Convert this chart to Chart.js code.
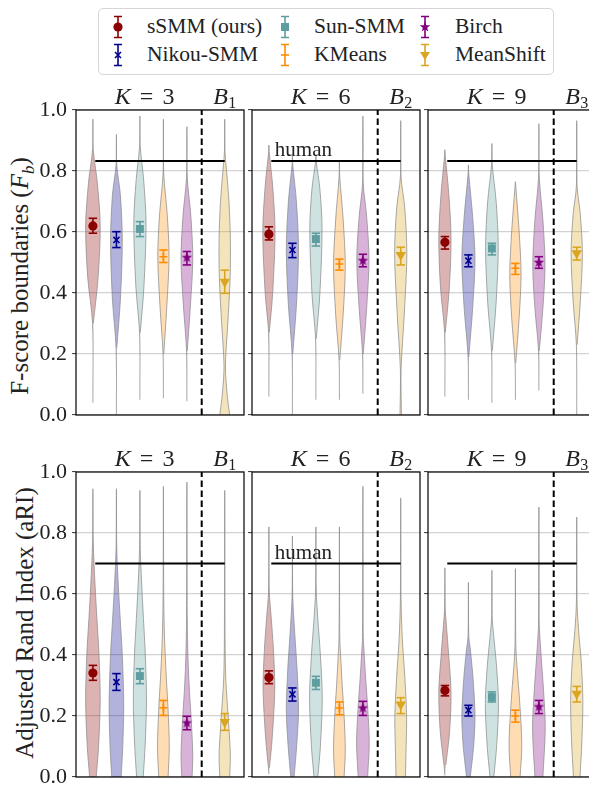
<!DOCTYPE html>
<html>
<head>
<meta charset="utf-8">
<script src="https://cdn.jsdelivr.net/npm/chart.js@4.4.0/dist/chart.umd.min.js"></script>
<style>
html, body { margin: 0; padding: 0; background: #fff; overflow: hidden; }
#fig { position: relative; width: 589px; height: 786px; overflow: hidden; font-family: 'Liberation Serif', serif; color: #222; }
.panel { position: absolute; }
.ylab { position: absolute; white-space: nowrap; font-size: 25px; line-height: 25px; transform: translate(-50%, -50%) rotate(-90deg); }
#legend { position: absolute; left: 98px; top: 8px; width: 456px; height: 67px; border: 1.3px solid #d6d6d6; border-radius: 5px; box-sizing: border-box; background: #fff; }
.item { position: absolute; font-size: 21.5px; line-height: 21.5px; white-space: nowrap; }
.mk { position: absolute; }
</style>
</head>
<body>
<div id="fig">
  <div id="legend"></div>
  <div class="ylab" style="left:24px; top:276px;">F-score boundaries (<i>F<sub style="font-size:17px">b</sub></i>)</div>
  <div class="ylab" style="left:24px; top:623px;">Adjusted Rand Index (aRI)</div>
</div>
<script>
// methods, in legend order
const methods = ['sSMM (ours)', 'Nikou-SMM', 'Sun-SMM', 'KMeans', 'Birch', 'MeanShift'];
const colors = ['#8b0000', '#00008b', '#5f9ea0', '#ff8c00', '#800080', '#daa520'];
const fills = ['rgba(139,0,0,0.3)', 'rgba(0,0,139,0.3)', 'rgba(95,158,160,0.3)',
               'rgba(255,140,0,0.3)', 'rgba(128,0,128,0.3)', 'rgba(218,165,32,0.3)'];
const markers = ['circle', 'crossRot', 'rect', 'cross', 'star', 'triangle'];

const kLabels = ['3', '6', '9'];
const bLabels = ['1', '2', '3'];
const xPositions = [0, 1, 2, 3, 4, 5.61];
const dividerX = 4.63;
const yTicks = [0, 0.2, 0.4, 0.6, 0.8, 1.0];

const humanFb = 0.833;
const humanAri = 0.70;

// mean and error bar ends, one row per K
const fbMean = [[0.620, 0.574, 0.610, 0.519, 0.516, 0.437],
                [0.593, 0.541, 0.577, 0.495, 0.506, 0.525],
                [0.566, 0.506, 0.546, 0.481, 0.500, 0.530]];
const fbLow  = [[0.596, 0.549, 0.585, 0.500, 0.492, 0.399],
                [0.574, 0.516, 0.554, 0.475, 0.486, 0.492],
                [0.544, 0.486, 0.525, 0.461, 0.481, 0.508]];
const fbHigh = [[0.645, 0.601, 0.634, 0.541, 0.536, 0.475],
                [0.617, 0.563, 0.596, 0.511, 0.527, 0.550],
                [0.585, 0.525, 0.563, 0.497, 0.519, 0.550]];

const ariMean = [[0.341, 0.311, 0.331, 0.227, 0.177, 0.180],
                 [0.326, 0.271, 0.309, 0.226, 0.226, 0.238],
                 [0.284, 0.219, 0.262, 0.200, 0.230, 0.273]];
const ariLow  = [[0.317, 0.284, 0.306, 0.202, 0.155, 0.153],
                 [0.306, 0.249, 0.287, 0.204, 0.202, 0.208],
                 [0.266, 0.200, 0.246, 0.180, 0.208, 0.246]];
const ariHigh = [[0.366, 0.339, 0.355, 0.251, 0.199, 0.208],
                 [0.348, 0.292, 0.330, 0.246, 0.248, 0.260],
                 [0.300, 0.235, 0.279, 0.219, 0.251, 0.297]];

// violin outlines: [value, half width] from bottom to top
const fbViolins = [
  [
    [[0.04,0],[0.30,0.015],[0.45,0.22],[0.62,0.31],[0.76,0.19],[0.87,0.015],[0.97,0]],
    [[0,0],[0.22,0.015],[0.38,0.17],[0.57,0.25],[0.72,0.17],[0.82,0.015],[0.92,0]],
    [[0.05,0],[0.27,0.015],[0.42,0.17],[0.63,0.26],[0.77,0.16],[0.88,0.015],[0.98,0]],
    [[0.055,0],[0.20,0.015],[0.35,0.14],[0.52,0.24],[0.66,0.16],[0.79,0.015],[0.97,0]],
    [[0.045,0],[0.21,0.015],[0.36,0.15],[0.51,0.25],[0.65,0.17],[0.78,0.015],[0.945,0]],
    [[0,0.21],[0.07,0.10],[0.16,0.03],[0.30,0.13],[0.45,0.23],[0.58,0.24],[0.70,0.18],[0.78,0.10],[0.86,0.015],[0.97,0]]
  ],
  [
    [[0.06,0],[0.27,0.015],[0.40,0.16],[0.60,0.26],[0.75,0.16],[0.86,0.015],[0.885,0]],
    [[0,0],[0.20,0.015],[0.36,0.17],[0.54,0.26],[0.70,0.17],[0.82,0.015],[0.85,0]],
    [[0.05,0],[0.25,0.015],[0.40,0.17],[0.61,0.26],[0.74,0.17],[0.83,0.015],[0.85,0]],
    [[0.05,0],[0.18,0.015],[0.33,0.16],[0.49,0.25],[0.64,0.16],[0.78,0.015],[0.835,0]],
    [[0.07,0],[0.20,0.015],[0.35,0.16],[0.51,0.26],[0.65,0.16],[0.76,0.015],[0.98,0]],
    [[0,0.03],[0.15,0.015],[0.33,0.15],[0.53,0.26],[0.68,0.17],[0.78,0.015],[0.965,0]]
  ],
  [
    [[0.06,0],[0.27,0.015],[0.42,0.19],[0.58,0.26],[0.72,0.17],[0.85,0.015],[0.87,0]],
    [[0.05,0],[0.19,0.015],[0.35,0.18],[0.51,0.28],[0.65,0.18],[0.79,0.015],[0.82,0]],
    [[0.04,0],[0.21,0.015],[0.37,0.18],[0.55,0.27],[0.70,0.18],[0.82,0.015],[0.89,0]],
    [[0.05,0],[0.17,0.015],[0.32,0.16],[0.46,0.24],[0.60,0.16],[0.75,0.015],[0.765,0]],
    [[0.08,0],[0.21,0.015],[0.35,0.17],[0.49,0.26],[0.64,0.17],[0.78,0.015],[0.955,0]],
    [[0,0],[0.23,0.015],[0.37,0.15],[0.53,0.24],[0.66,0.15],[0.75,0.015],[0.965,0]]
  ]
];

const ariViolins = [
  [
    [[0,0.14],[0.10,0.24],[0.25,0.31],[0.40,0.26],[0.52,0.17],[0.63,0.09],[0.77,0.015],[0.945,0]],
    [[0,0.20],[0.10,0.27],[0.24,0.31],[0.40,0.25],[0.52,0.16],[0.63,0.08],[0.75,0.015],[0.945,0]],
    [[0,0.14],[0.10,0.22],[0.25,0.28],[0.40,0.23],[0.52,0.15],[0.64,0.07],[0.75,0.015],[0.94,0]],
    [[0,0.20],[0.10,0.25],[0.22,0.20],[0.33,0.12],[0.45,0.05],[0.58,0.015],[0.953,0]],
    [[0,0.22],[0.07,0.25],[0.18,0.19],[0.28,0.11],[0.38,0.05],[0.52,0.015],[0.967,0]],
    [[0,0.21],[0.07,0.24],[0.16,0.18],[0.25,0.10],[0.33,0.04],[0.45,0.015],[0.94,0]]
  ],
  [
    [[0.01,0],[0.03,0.02],[0.10,0.11],[0.20,0.20],[0.30,0.25],[0.42,0.19],[0.52,0.10],[0.61,0.015],[0.82,0]],
    [[0,0.07],[0.10,0.18],[0.22,0.26],[0.35,0.20],[0.47,0.10],[0.59,0.015],[0.79,0]],
    [[0,0.08],[0.10,0.19],[0.26,0.27],[0.40,0.19],[0.52,0.08],[0.61,0.015],[0.82,0]],
    [[0,0.20],[0.09,0.25],[0.20,0.20],[0.30,0.12],[0.40,0.05],[0.46,0.015],[0.82,0]],
    [[0,0.20],[0.11,0.27],[0.22,0.21],[0.32,0.12],[0.41,0.05],[0.46,0.015],[0.953,0]],
    [[0,0.20],[0.10,0.23],[0.20,0.25],[0.32,0.18],[0.45,0.07],[0.58,0.015],[0.915,0]]
  ],
  [
    [[0.005,0],[0.04,0.04],[0.15,0.20],[0.28,0.26],[0.40,0.16],[0.50,0.06],[0.55,0.015],[0.686,0]],
    [[0,0.08],[0.10,0.22],[0.20,0.28],[0.32,0.20],[0.42,0.08],[0.46,0.015],[0.638,0]],
    [[0,0.08],[0.10,0.20],[0.24,0.28],[0.36,0.20],[0.46,0.08],[0.52,0.015],[0.678,0]],
    [[0,0.20],[0.10,0.27],[0.20,0.22],[0.30,0.13],[0.38,0.05],[0.44,0.015],[0.683,0]],
    [[0,0.17],[0.16,0.27],[0.28,0.20],[0.38,0.11],[0.46,0.04],[0.50,0.015],[0.885,0]],
    [[0,0.14],[0.12,0.22],[0.25,0.26],[0.38,0.19],[0.48,0.08],[0.57,0.015],[0.852,0]]
  ]
];

const FONT = '"Liberation Serif", serif';

// filled five point star used as the Birch marker
function starImage(color, r) {
  const size = Math.ceil(r * 2 + 2);
  const c = document.createElement('canvas');
  c.width = size; c.height = size;
  const g = c.getContext('2d');
  g.fillStyle = color;
  g.beginPath();
  for (let i = 0; i < 10; i++) {
    const rr = i % 2 ? r * 0.42 : r;
    const a = -Math.PI / 2 + i * Math.PI / 5;
    g.lineTo(size / 2 + rr * Math.cos(a), size / 2 + rr * Math.sin(a));
  }
  g.closePath();
  g.fill();
  return c;
}

function violinPoints(knots, cx) {
  const left = knots.map(([v, w]) => ({x: cx - w, y: v}));
  let right = knots.slice().reverse().map(([v, w]) => ({x: cx + w, y: v}));
  if (knots[knots.length - 1][1] === 0) right = right.slice(1);
  if (knots[0][1] === 0) right = right.slice(0, -1);
  return left.concat(right);
}

function drawParts(ctx, parts, cx, base) {
  let total = 0;
  parts.forEach(p => { ctx.font = p.font; p.w = ctx.measureText(p.text).width; total += p.w + (p.gap || 0); });
  let x = cx - total / 2;
  parts.forEach(p => {
    ctx.font = p.font;
    ctx.fillText(p.text, x, base + (p.dy || 0));
    x += p.w + (p.gap || 0);
  });
}

function decorPlugin(col, human) {
  return {
    id: 'decor',
    afterDatasetsDraw(chart) {
      const {ctx, chartArea: a, scales: {x, y}} = chart;
      ctx.save();
      ctx.strokeStyle = '#000';
      ctx.lineWidth = 1.2;
      ctx.strokeRect(a.left, a.top, a.right - a.left, a.bottom - a.top);
      ctx.fillStyle = '#222';
      ctx.textAlign = 'left';
      ctx.textBaseline = 'alphabetic';
      const base = a.top - 6;
      drawParts(ctx, [
        {text: 'K', font: 'italic 24px ' + FONT, gap: 9},
        {text: '=', font: '24px ' + FONT, gap: 9},
        {text: kLabels[col], font: '24px ' + FONT}
      ], x.getPixelForValue(2.2), base);
      drawParts(ctx, [
        {text: 'B', font: 'italic 24px ' + FONT, gap: 0.5},
        {text: bLabels[col], font: '16px ' + FONT, dy: 4}
      ], x.getPixelForValue(xPositions[5]), base);
      if (col === 1) {
        ctx.font = '21px ' + FONT;
        ctx.fillText('human', x.getPixelForValue(0.25), y.getPixelForValue(human + 0.016));
      }
      ctx.restore();
    }
  };
}

const fig = document.getElementById('fig');
const cols = [{left: 0, width: 250, axisW: 76}, {left: 246, width: 180, axisW: 6}, {left: 422, width: 180, axisW: 6}];
const rows = [{top: 80}, {top: 442}];
const metrics = [
  {mean: fbMean, low: fbLow, high: fbHigh, violins: fbViolins, human: humanFb},
  {mean: ariMean, low: ariLow, high: ariHigh, violins: ariViolins, human: humanAri}
];

metrics.forEach((m, r) => {
  cols.forEach((c, k) => {
    const div = document.createElement('div');
    div.className = 'panel';
    div.style.left = c.left + 'px';
    div.style.top = rows[r].top + 'px';
    const canvas = document.createElement('canvas');
    canvas.width = c.width;
    canvas.height = 360;
    div.appendChild(canvas);
    fig.appendChild(div);

    const datasets = [];
    methods.forEach((name, i) => {
      const cx = xPositions[i];
      datasets.push({
        label: name + ' violin',
        data: violinPoints(m.violins[k][i], cx),
        showLine: true,
        fill: 'shape',
        backgroundColor: fills[i],
        borderColor: 'rgba(140,140,140,0.75)',
        borderWidth: 1,
        pointRadius: 0,
        tension: 0.3,
        order: 5
      });
      datasets.push({
        label: name + ' error',
        data: [{x: cx, y: m.low[k][i]}, {x: cx, y: m.high[k][i]}],
        showLine: true,
        borderColor: colors[i],
        borderWidth: 1.6,
        pointStyle: 'line',
        pointRadius: 4.2,
        pointBorderWidth: 1.6,
        pointBorderColor: colors[i],
        order: 1
      });
      const style = markers[i];
      datasets.push({
        label: name,
        data: [{x: cx, y: m.mean[k][i]}],
        pointStyle: style === 'star' ? starImage(colors[i], 5.5) : style,
        pointRotation: style === 'triangle' ? 180 : 0,
        pointRadius: {circle: 4.6, crossRot: 4.3, rect: 5.6, cross: 4, star: 5.5, triangle: 6}[style],
        pointBackgroundColor: colors[i],
        pointBorderColor: colors[i],
        pointBorderWidth: (style === 'crossRot' || style === 'cross') ? 1.6 : 0,
        order: 0
      });
    });
    datasets.push({
      label: 'human',
      data: [{x: 0.1, y: m.human}, {x: xPositions[5], y: m.human}],
      showLine: true, borderColor: '#000', borderWidth: 2, pointRadius: 0, order: 2
    });
    datasets.push({
      label: 'divider',
      data: [{x: dividerX, y: 0}, {x: dividerX, y: 1}],
      showLine: true, borderColor: '#000', borderWidth: 2, borderDash: [6.5, 3.5], pointRadius: 0, order: 2
    });

    new Chart(canvas, {
      type: 'scatter',
      data: {datasets},
      options: {
        responsive: false,
        animation: false,
        devicePixelRatio: 1,
        events: [],
        layout: {padding: {left: 0, right: 4, top: 30, bottom: 25}},
        plugins: {legend: {display: false}, tooltip: {enabled: false}},
        scales: {
          x: {type: 'linear', display: false, min: -0.72, max: 6.43},
          y: {
            type: 'linear', min: 0, max: 1,
            afterBuildTicks: s => { s.ticks = yTicks.map(v => ({value: v})); },
            afterFit: s => { s.width = c.axisW; },
            border: {display: false},
            grid: {color: '#d2d2d2', lineWidth: 1.2, tickLength: 4, tickColor: '#333', tickWidth: 1},
            ticks: {
              display: k === 0, padding: 5, color: '#222',
              font: {family: FONT, size: 22},
              callback: v => v.toFixed(1)
            }
          }
        }
      },
      plugins: [decorPlugin(k, m.human)]
    });
  });
});

// legend
function markerSvg(style, color) {
  let m = '';
  if (style === 'circle') m = `<circle cx="8" cy="12" r="4.6" fill="${color}"/>`;
  if (style === 'crossRot') m = `<path d="M5 9L11 15M11 9L5 15" stroke="${color}" stroke-width="1.6"/>`;
  if (style === 'rect') m = `<rect x="4" y="8" width="8" height="8" fill="${color}"/>`;
  if (style === 'cross') m = `<path d="M4 12H12" stroke="${color}" stroke-width="1.6"/>`;
  if (style === 'star') {
    const pts = [];
    for (let i = 0; i < 10; i++) {
      const rr = i % 2 ? 2.3 : 5.5, a = -Math.PI / 2 + i * Math.PI / 5;
      pts.push((8 + rr * Math.cos(a)).toFixed(2) + ',' + (12 + rr * Math.sin(a)).toFixed(2));
    }
    m = `<polygon points="${pts.join(' ')}" fill="${color}"/>`;
  }
  if (style === 'triangle') m = `<polygon points="3,9 13,9 8,17" fill="${color}"/>`;
  return `<svg width="16" height="24" viewBox="0 0 16 24">` +
    `<path d="M8 1.5V22.5M4 1.5H12M4 22.5H12" stroke="${color}" stroke-width="1.6" fill="none"/>` + m + `</svg>`;
}

const legend = document.getElementById('legend');
const legendMarkX = [19, 186, 326];
const legendTextX = [48, 215, 356];
const legendRowY = [18.4, 45.7];
methods.forEach((name, i) => {
  const col = Math.floor(i / 2), row = i % 2;
  const mk = document.createElement('div');
  mk.className = 'mk';
  mk.style.left = (legendMarkX[col] - 8) + 'px';
  mk.style.top = (legendRowY[row] - 12) + 'px';
  mk.innerHTML = markerSvg(markers[i], colors[i]);
  legend.appendChild(mk);
  const t = document.createElement('div');
  t.className = 'item';
  t.style.left = legendTextX[col] + 'px';
  t.style.top = (legendRowY[row] - 11) + 'px';
  t.textContent = name;
  legend.appendChild(t);
});
</script>
</body>
</html>
